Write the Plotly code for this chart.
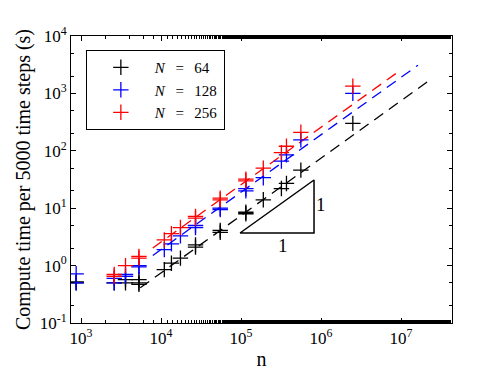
import plotly.graph_objects as go
import math

# ---- data ----
n64 = [870, 870, 2600, 3600, 3600, 5300, 5300, 5300, 11000, 13500, 17500, 27000, 27000,
       55000, 55000, 115000, 115000, 190000, 320000, 370000, 560000, 2500000]
t64 = [0.50, 0.52, 0.50, 0.50, 0.57, 0.50, 0.57, 0.47, 0.85, 1.1, 1.35, 2.1, 2.3,
       3.8, 4.1, 8.0, 8.5, 14, 22, 27, 46, 300]

n128 = [870, 870, 2600, 2600, 3600, 3600, 5300, 5300, 11000, 13500, 17500, 27000, 27000,
        55000, 55000, 115000, 115000, 190000, 320000, 370000, 560000, 2500000]
t128 = [0.72, 0.50, 0.60, 0.50, 0.70, 0.65, 1.0, 0.95, 1.9, 2.4, 3.3, 4.6, 5.0,
        9.5, 10, 20, 22, 34, 66, 85, 155, 1000]

n256 = [2600, 2600, 3600, 5300, 5300, 11000, 13500, 17500, 27000, 27000,
        55000, 55000, 115000, 115000, 190000, 320000, 370000, 560000, 2500000]
t256 = [0.70, 0.65, 1.0, 1.45, 1.35, 2.8, 3.6, 4.6, 6.7, 7.2,
        14, 15, 30, 32, 50, 93, 120, 210, 1340]

# fitted dashed lines (end points)
fit64_n = [5500, 2.5e7]
fit64_t = [0.41, 1860]
fit128_n = [7900, 1.63e7]
fit128_t = [1.5, 3100]
fit256_n = [7900, 1.0e7]
fit256_t = [2.03, 2570]

SP = "\u2002\u2009"
labels = ["<i>N</i>" + SP + "=" + SP + "64",
          "<i>N</i>" + SP + "=" + SP + "128",
          "<i>N</i>" + SP + "=" + SP + "256"]
colors = ["black", "rgb(0,0,255)", "rgb(255,0,0)"]

# slope triangle
tri_n = [97200, 818000, 818000, 97200]
tri_t = [3.7, 3.7, 31, 3.7]

FONT = "Liberation Serif"

fig = go.Figure()
for fn, ft, col in [(fit64_n, fit64_t, colors[0]),
                    (fit128_n, fit128_t, colors[1]),
                    (fit256_n, fit256_t, colors[2])]:
    fig.add_trace(go.Scatter(x=fn, y=ft, mode="lines", showlegend=False,
                             line=dict(color=col, width=1.3, dash="11px,7px"),
                             hoverinfo="skip"))
for nn, tt, lab, col in [(n64, t64, labels[0], colors[0]),
                         (n128, t128, labels[1], colors[1]),
                         (n256, t256, labels[2], colors[2])]:
    fig.add_trace(go.Scatter(x=nn, y=tt, mode="markers", name=lab,
                             marker=dict(symbol="cross-thin", size=11,
                                         line=dict(color=col, width=1.3))))

fig.add_trace(go.Scatter(x=tri_n, y=tri_t, mode="lines", showlegend=False,
                         line=dict(color="black", width=1.5), hoverinfo="skip"))

fig.add_annotation(x=math.log10(tri_n[1]) + 0.09, y=math.log10(math.sqrt(tri_t[0] * tri_t[2])) + 0.03,
                   text="1", showarrow=False, font=dict(family=FONT, size=19, color="black"))
fig.add_annotation(x=math.log10(math.sqrt(tri_n[0] * tri_n[1])) + 0.08, y=math.log10(tri_t[0]) - 0.21,
                   text="1", showarrow=False, font=dict(family=FONT, size=19, color="black"))

xt = [1e3, 1e4, 1e5, 1e6, 1e7]
xtt = ["10<sup>3</sup>", "10<sup>4</sup>", "10<sup>5</sup>", "10<sup>6</sup>", "10<sup>7</sup>"]
yt = [1e-1, 1e0, 1e1, 1e2, 1e3, 1e4]
ytt = ["10<sup>-1</sup>", "10<sup>0</sup>", "10<sup>1</sup>", "10<sup>2</sup>", "10<sup>3</sup>", "10<sup>4</sup>"]

axis_common = dict(type="log", showgrid=False, zeroline=False, showline=True,
                   linecolor="black", linewidth=1, mirror="ticks", ticks="inside",
                   ticklen=5, tickcolor="black", automargin=False,
                   minor=dict(ticks="inside", ticklen=3, tickcolor="black", showgrid=False),
                   tickfont=dict(family=FONT, size=17, color="black"))

fig.update_xaxes(range=[2.875, 7.6375], tickvals=xt, ticktext=xtt,
                 title=dict(text="n", font=dict(family=FONT, size=20, color="black"), standoff=4),
                 **axis_common)
fig.update_yaxes(range=[-1, 4], tickvals=yt, ticktext=ytt,
                 title=dict(text="Compute time per 5000 time steps (s)",
                            font=dict(family=FONT, size=20, color="black"), standoff=3),
                 **axis_common)

fig.update_layout(
    width=491, height=369,
    margin=dict(l=63, r=47, t=28, b=54),
    plot_bgcolor="white", paper_bgcolor="white",
    font=dict(family=FONT, size=17, color="black"),
    legend=dict(x=0.039, y=0.951, xanchor="left", yanchor="top",
                bordercolor="black", borderwidth=1, bgcolor="white",
                font=dict(family=FONT, size=15, color="black"),
                itemwidth=58, tracegroupgap=0),
)

fig.write_html("out.html")
